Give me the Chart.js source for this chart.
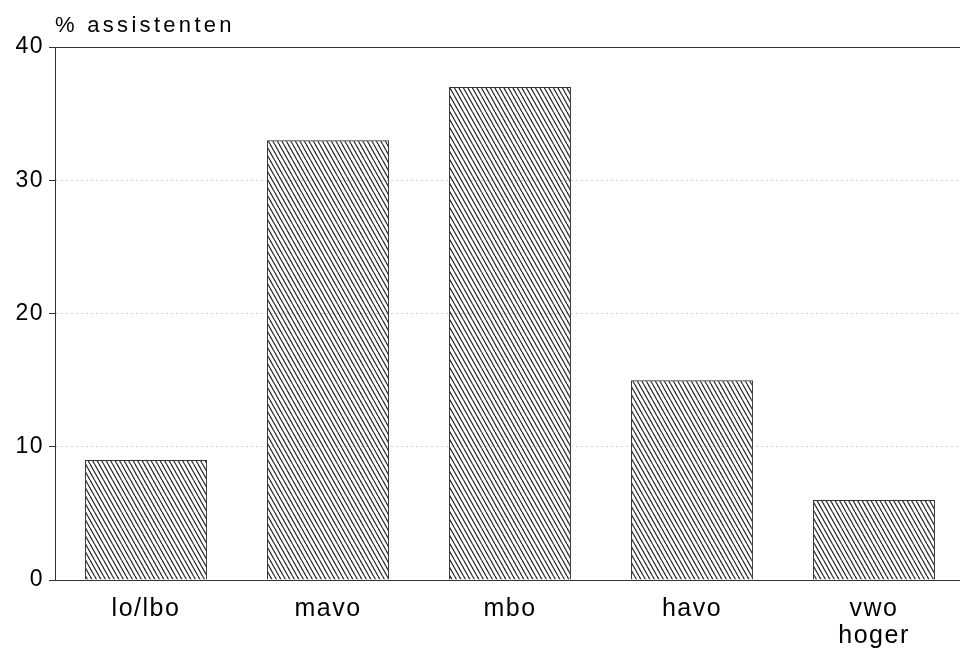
<!DOCTYPE html>
<html lang="nl">
<head>
    <meta charset="UTF-8">
    <title>% assistenten</title>
    <style>
        html, body {
            margin: 0;
            padding: 0;
            background: #fff;
            overflow: hidden;
        }
        #chart {
            display: block;
        }
    </style>
    <script src="https://cdn.jsdelivr.net/npm/chart.js"></script>
</head>
<body>
    <canvas id="chart" width="970" height="648"></canvas>

    <script>
        // data
        const categories = ['lo/lbo', 'mavo', 'mbo', 'havo', ['vwo', 'hoger']];
        const percentages = [9, 33, 37, 15, 6];
        const yTicks = [0, 10, 20, 30, 40];
        const yTitle = '% assistenten';

        const FONT = "'Liberation Sans', Arial, sans-serif";

        // diagonal hatching like the printed bars
        function makeHatch() {
            const c = document.createElement('canvas');
            c.width = 9;
            c.height = 16;
            const g = c.getContext('2d');
            g.strokeStyle = '#262626';
            g.lineWidth = 1.15;
            [-9, -4.5, 0, 4.5, 9].forEach(x0 => {
                g.beginPath();
                g.moveTo(x0, 0);
                g.lineTo(x0 + 9, 16);
                g.stroke();
            });
            return document.getElementById('chart').getContext('2d').createPattern(c, 'repeat');
        }

        // the old typesetting is spaced out a bit
        const spacingPlugin = {
            id: 'spacing',
            beforeDraw(chart) {
                chart.ctx.letterSpacing = '1.5px';
            }
        };

        // title above the axis and the closed top edge of the frame
        const framePlugin = {
            id: 'frame',
            afterDraw(chart) {
                const a = chart.chartArea;
                const ctx = chart.ctx;
                ctx.save();
                ctx.strokeStyle = '#333';
                ctx.lineWidth = 1;
                ctx.beginPath();
                ctx.moveTo(a.left, a.top + 0.5);
                ctx.lineTo(a.right, a.top + 0.5);
                ctx.stroke();
                ctx.fillStyle = '#000';
                ctx.font = '22px ' + FONT;
                ctx.letterSpacing = '3.3px';
                ctx.textBaseline = 'alphabetic';
                ctx.fillText(yTitle, a.left, 32);
                ctx.restore();
            }
        };

        new Chart(document.getElementById('chart'), {
            type: 'bar',
            data: {
                labels: categories,
                datasets: [{
                    data: percentages,
                    backgroundColor: makeHatch(),
                    borderColor: '#333',
                    borderWidth: 1,
                    barPercentage: 0.67,
                    categoryPercentage: 1
                }]
            },
            options: {
                responsive: false,
                animation: false,
                layout: {
                    padding: { top: 47, right: 5, left: 0, bottom: 0 }
                },
                plugins: {
                    legend: { display: false },
                    tooltip: { enabled: false }
                },
                scales: {
                    x: {
                        grid: { display: false, drawTicks: false },
                        border: { display: true, color: '#333', width: 1 },
                        ticks: {
                            color: '#000',
                            padding: 15,
                            font: { family: FONT, size: 25, lineHeight: 1.1 }
                        },
                        afterFit(scale) { scale.height = 68; }
                    },
                    y: {
                        min: 0,
                        max: 40,
                        afterBuildTicks(scale) {
                            scale.ticks = yTicks.map(v => ({ value: v }));
                        },
                        afterFit(scale) { scale.width = 55; },
                        grid: {
                            color: '#d2d2d2',
                            lineWidth: 1,
                            tickColor: '#333',
                            tickLength: 6,
                            tickBorderDash: []
                        },
                        border: { display: true, color: '#333', width: 1, dash: [2, 3] },
                        ticks: {
                            color: '#000',
                            padding: 5,
                            font: { family: FONT, size: 23 }
                        }
                    }
                }
            },
            plugins: [spacingPlugin, framePlugin]
        });
    </script>
</body>
</html>
